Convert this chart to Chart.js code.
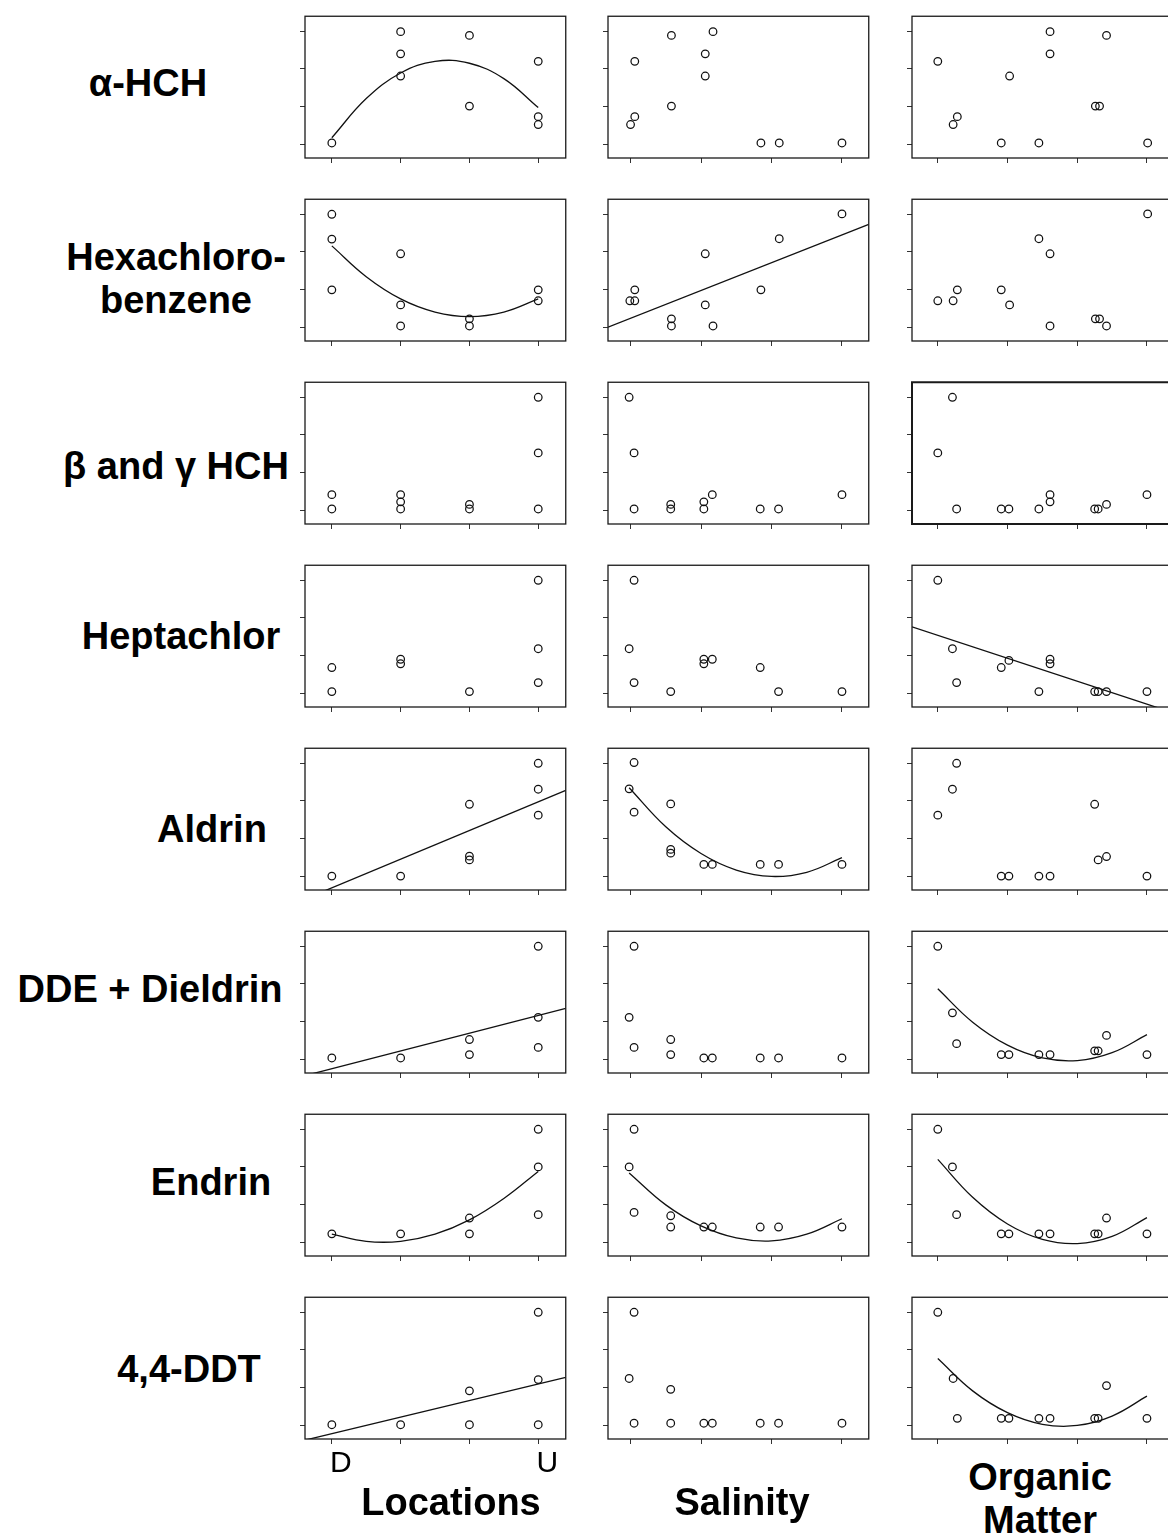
<!DOCTYPE html>
<html>
<head>
<meta charset="utf-8">
<script src="https://cdn.jsdelivr.net/npm/chart.js@4.4.1/dist/chart.umd.min.js"></script>
<style>
html, body { margin: 0; padding: 0; background: #fff; }
body { width: 1168px; height: 1540px; position: relative; overflow: hidden; font-family: "Liberation Sans", Arial, sans-serif; }
.lbl { position: absolute; font-weight: bold; font-size: 38px; line-height: 43px; text-align: center; white-space: pre; transform: translate(-50%, -50%); color: #000; }
.cell { position: absolute; }
</style>
</head>
<body>
<script>
// tick positions (unlabelled) and the only tick labels shown
const tickVals = [0, 1, 2, 3];
const locTickLabels = ['D', '', '', 'U'];

const rowLabels = ['α-HCH', 'Hexachloro-\nbenzene', 'β and γ HCH', 'Heptachlor', 'Aldrin', 'DDE + Dieldrin', 'Endrin', '4,4-DDT'];
const colTitles = ['Locations', 'Salinity', 'Organic\nMatter'];

// alpha-HCH
const aHCH_loc = [[0,0.03],[1,2.99],[1,2.40],[1,1.81],[2,2.89],[2,1.01],[3,2.20],[3,0.73],[3,0.52]];
const aHCH_loc_fit = [[0,0.17],[0.5,1.21],[1,1.89],[1.5,2.20],[2,2.15],[2.5,1.74],[3,0.97]];
const aHCH_sal = [[0.06,2.20],[0.0,0.52],[0.06,0.73],[0.58,2.89],[0.58,1.01],[1.06,2.40],[1.06,1.81],[1.17,2.99],[1.85,0.03],[2.11,0.03],[3.0,0.03]];
const aHCH_om = [[0.0,2.20],[0.22,0.52],[0.28,0.73],[0.91,0.03],[1.03,1.81],[1.45,0.03],[1.61,2.99],[1.61,2.40],[2.26,1.01],[2.32,1.01],[2.42,2.89],[3.01,0.03]];

// hexachlorobenzene
const hcb_loc = [[0,3.0],[0,2.34],[0,0.99],[1,1.95],[1,0.59],[1,0.03],[2,0.22],[2,0.03],[3,0.99],[3,0.70]];
const hcb_loc_fit = [[0,2.16],[0.5,1.34],[1,0.75],[1.5,0.40],[2,0.28],[2.5,0.40],[3,0.75]];
const hcb_sal = [[-0.01,0.70],[0.06,0.70],[0.06,0.99],[0.58,0.22],[0.58,0.03],[1.06,1.95],[1.06,0.59],[1.17,0.03],[1.85,0.99],[2.11,2.35],[3.0,3.01]];
const hcb_sal_fit = [[-0.32,0.0],[3.38,2.73]];
const hcb_om = [[0.0,0.70],[0.22,0.70],[0.28,0.99],[0.91,0.99],[1.03,0.59],[1.45,2.35],[1.61,1.95],[1.61,0.03],[2.26,0.22],[2.32,0.22],[2.42,0.03],[3.01,3.01]];

// beta and gamma HCH
const bgHCH_loc = [[0,0.41],[0,0.03],[1,0.41],[1,0.22],[1,0.03],[2,0.15],[2,0.03],[3,3.0],[3,1.52],[3,0.03]];
const bgHCH_sal = [[-0.02,3.0],[0.05,1.52],[0.05,0.03],[0.57,0.15],[0.57,0.03],[1.04,0.22],[1.04,0.03],[1.16,0.41],[1.84,0.03],[2.1,0.03],[3.0,0.41]];
const bgHCH_om = [[0.0,1.52],[0.21,3.0],[0.27,0.03],[0.91,0.03],[1.02,0.03],[1.45,0.03],[1.61,0.41],[1.61,0.22],[2.25,0.03],[2.30,0.03],[2.42,0.15],[3.0,0.41]];

// heptachlor
const hept_loc = [[0,0.68],[0,0.04],[1,0.90],[1,0.78],[2,0.04],[3,3.0],[3,1.18],[3,0.28]];
const hept_sal = [[0.05,3.0],[-0.02,1.18],[0.05,0.28],[0.57,0.04],[1.04,0.90],[1.04,0.78],[1.16,0.90],[1.84,0.68],[2.1,0.04],[3.0,0.04]];
const hept_om = [[0.0,3.0],[0.21,1.18],[0.27,0.28],[0.91,0.68],[1.02,0.87],[1.45,0.04],[1.61,0.90],[1.61,0.78],[2.25,0.04],[2.30,0.04],[2.42,0.04],[3.0,0.04]];
const hept_om_fit = [[-0.37,1.76],[3.37,-0.52]];

// aldrin
const ald_loc = [[0,0.0],[1,0.0],[2,1.91],[2,0.53],[2,0.43],[3,3.0],[3,2.31],[3,1.62]];
const ald_loc_fit = [[-0.39,-0.61],[3.40,2.28]];
const ald_sal = [[0.05,3.02],[-0.02,2.32],[0.05,1.70],[0.57,1.92],[0.57,0.71],[0.57,0.61],[1.04,0.31],[1.16,0.31],[1.84,0.31],[2.1,0.31],[3.0,0.31]];
const ald_sal_fit = [[-0.02,2.35],[0.5,1.31],[1.0,0.60],[1.5,0.16],[2.0,-0.01],[2.5,0.10],[3.0,0.49]];
const ald_om = [[0.0,1.62],[0.21,2.31],[0.27,3.0],[0.91,0.0],[1.02,0.0],[1.45,0.0],[1.61,0.0],[2.25,1.91],[2.30,0.43],[2.42,0.52],[3.0,0.0]];

// DDE + dieldrin
const dde_loc = [[0,0.03],[1,0.03],[2,0.52],[2,0.12],[3,3.0],[3,1.11],[3,0.31]];
const dde_loc_fit = [[-0.39,-0.44],[3.40,1.35]];
const dde_sal = [[0.05,3.0],[-0.02,1.11],[0.05,0.31],[0.57,0.52],[0.57,0.12],[1.04,0.03],[1.16,0.03],[1.84,0.03],[2.1,0.03],[3.0,0.03]];
const dde_om = [[0.0,3.0],[0.21,1.23],[0.27,0.41],[0.91,0.12],[1.02,0.12],[1.45,0.12],[1.61,0.12],[2.25,0.22],[2.30,0.22],[2.42,0.63],[3.0,0.12]];
const dde_om_fit = [[0,1.87],[0.5,0.98],[1,0.37],[1.5,0.03],[2,-0.04],[2.5,0.17],[3,0.65]];

// endrin
const end_loc = [[0,0.22],[1,0.22],[2,0.64],[2,0.22],[3,3.0],[3,2.0],[3,0.73]];
const end_loc_fit = [[0,0.21],[0.5,0.02],[1,0.02],[1.5,0.21],[2,0.59],[2.5,1.16],[3,1.88]];
const end_sal = [[0.05,3.0],[-0.02,2.0],[0.05,0.79],[0.57,0.70],[0.57,0.40],[1.04,0.40],[1.16,0.40],[1.84,0.40],[2.1,0.40],[3.0,0.40]];
const end_sal_fit = [[-0.02,1.84],[0.5,0.99],[1,0.43],[1.5,0.11],[2,0.03],[2.5,0.21],[3,0.62]];
const end_om = [[0.0,3.0],[0.21,2.0],[0.27,0.73],[0.91,0.22],[1.02,0.22],[1.45,0.22],[1.61,0.22],[2.25,0.22],[2.30,0.22],[2.42,0.64],[3.0,0.22]];
const end_om_fit = [[0,2.2],[0.5,1.19],[1,0.48],[1.5,0.07],[2,-0.04],[2.5,0.15],[3,0.65]];

// 4,4-DDT
const ddt_loc = [[0,0.01],[1,0.01],[2,0.91],[2,0.01],[3,3.0],[3,1.21],[3,0.01]];
const ddt_loc_fit = [[-0.39,-0.40],[3.40,1.27]];
const ddt_sal = [[0.05,3.0],[-0.02,1.24],[0.05,0.05],[0.57,0.95],[0.57,0.05],[1.04,0.05],[1.16,0.05],[1.84,0.05],[2.1,0.05],[3.0,0.05]];
const ddt_om = [[0.0,3.0],[0.22,1.24],[0.28,0.18],[0.91,0.18],[1.02,0.18],[1.45,0.18],[1.61,0.18],[2.25,0.18],[2.30,0.18],[2.42,1.05],[3.0,0.18]];
const ddt_om_fit = [[0,1.77],[0.5,0.91],[1,0.33],[1.5,0.02],[2,-0.01],[2.5,0.24],[3,0.77]];

const panels = [
    [[aHCH_loc, aHCH_loc_fit], [aHCH_sal, null], [aHCH_om, null]],
    [[hcb_loc, hcb_loc_fit], [hcb_sal, hcb_sal_fit], [hcb_om, null]],
    [[bgHCH_loc, null], [bgHCH_sal, null], [bgHCH_om, null]],
    [[hept_loc, null], [hept_sal, null], [hept_om, hept_om_fit]],
    [[ald_loc, ald_loc_fit], [ald_sal, ald_sal_fit], [ald_om, null]],
    [[dde_loc, dde_loc_fit], [dde_sal, null], [dde_om, dde_om_fit]],
    [[end_loc, end_loc_fit], [end_sal, end_sal_fit], [end_om, end_om_fit]],
    [[ddt_loc, ddt_loc_fit], [ddt_sal, null], [ddt_om, ddt_om_fit]],
];

// layout
const colLeft = [305, 608, 912];
const rowTop = [15, 198, 381, 564, 747, 930, 1113, 1296];
const plotW = 262, plotH = 143;
const xRanges = [[-0.39, 3.40], [-0.32, 3.38], [-0.37, 3.37]];
const yRange = [-0.37, 3.40];
const rowLabelPos = [[148,83],[176,279],[176,466],[181,636],[212,829],[150,989],[211,1182],[189,1369]];
const colTitlePos = [[451,1502],[742,1502],[1040,1499]];

const framePlugin = {
    id: 'frame',
    afterDraw: function(chart, args, opts) {
        const a = chart.chartArea;
        const ctx = chart.ctx;
        ctx.save();
        ctx.strokeStyle = '#1a1a1a';
        ctx.lineWidth = opts.width || 1.3;
        ctx.strokeRect(a.left, a.top, a.right - a.left, a.bottom - a.top);
        ctx.restore();
    }
};

function toXY(arr) {
    return arr.map(function(p) { return {x: p[0], y: p[1]}; });
}

function makePanel(r, c, pts, fit) {
    const labelled = (r === rowTop.length - 1 && c === 0);
    const axisH = labelled ? 50 : 10;
    const div = document.createElement('div');
    div.className = 'cell';
    div.style.left = (colLeft[c] - 12) + 'px';
    div.style.top = (rowTop[r] - 4) + 'px';
    const canvas = document.createElement('canvas');
    canvas.width = plotW + 16;
    canvas.height = plotH + 4 + axisH;
    div.appendChild(canvas);
    document.body.appendChild(div);

    const datasets = [{
        type: 'scatter',
        data: toXY(pts),
        pointRadius: 3.8,
        pointBorderWidth: 1.25,
        pointBorderColor: '#111',
        pointBackgroundColor: 'rgba(0,0,0,0)',
        showLine: false,
    }];
    if (fit) {
        datasets.push({
            type: 'line',
            data: toXY(fit),
            borderColor: '#111',
            borderWidth: 1.3,
            pointRadius: 0,
            tension: fit.length > 2 ? 0.4 : 0,
            fill: false,
        });
    }

    const gridOpts = {drawOnChartArea: false, drawTicks: true, tickLength: 5, color: '#333', lineWidth: 1};

    new Chart(canvas, {
        data: {datasets: datasets},
        plugins: [framePlugin],
        options: {
            responsive: false,
            animation: false,
            layout: {padding: {left: 0, top: 4, right: 4, bottom: 0}},
            plugins: {
                legend: {display: false},
                tooltip: {enabled: false},
                // the beta/gamma organic-matter frame is printed heavier
                frame: {width: (r === 2 && c === 2) ? 2 : 1.3}
            },
            scales: {
                x: {
                    type: 'linear',
                    min: xRanges[c][0],
                    max: xRanges[c][1],
                    afterBuildTicks: function(s) { s.ticks = tickVals.map(function(v) { return {value: v}; }); },
                    afterFit: function(s) { s.height = axisH; },
                    grid: gridOpts,
                    border: {display: false},
                    ticks: {
                        display: labelled,
                        autoSkip: false,
                        maxRotation: 0,
                        padding: 2,
                        labelOffset: 9,
                        color: '#000',
                        font: {size: 30, family: 'Liberation Sans'},
                        callback: function(value, index) { return locTickLabels[index]; }
                    }
                },
                y: {
                    type: 'linear',
                    min: yRange[0],
                    max: yRange[1],
                    afterBuildTicks: function(s) { s.ticks = tickVals.map(function(v) { return {value: v}; }); },
                    afterFit: function(s) { s.width = 12; },
                    grid: gridOpts,
                    border: {display: false},
                    ticks: {display: false}
                }
            }
        }
    });
}

function addLabel(text, pos) {
    const d = document.createElement('div');
    d.className = 'lbl';
    d.textContent = text;
    d.style.left = pos[0] + 'px';
    d.style.top = pos[1] + 'px';
    document.body.appendChild(d);
}

panels.forEach(function(row, r) {
    row.forEach(function(cell, c) { makePanel(r, c, cell[0], cell[1]); });
    addLabel(rowLabels[r], rowLabelPos[r]);
});
colTitles.forEach(function(t, i) { addLabel(t, colTitlePos[i]); });
</script>
</body>
</html>
